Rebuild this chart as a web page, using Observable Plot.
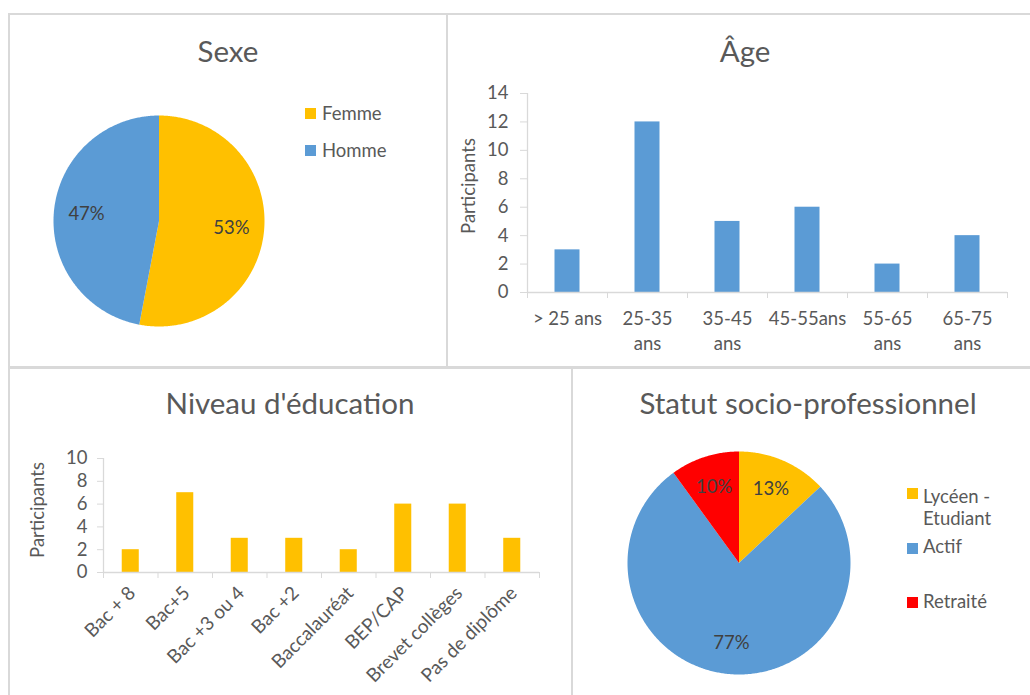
<!DOCTYPE html>
<html><head><meta charset="utf-8">
<script src="https://cdn.jsdelivr.net/npm/d3@7"></script>
<script src="https://cdn.jsdelivr.net/npm/@observablehq/plot@0.6"></script>
<style>
body{margin:0;background:#fff;font-family:Lato,sans-serif;color:#595959}
#root{position:relative;width:1030px;height:695px;overflow:hidden;background:#fff}
.panel{position:absolute;box-sizing:border-box;border:2px solid #d9d9d9}
.title{position:absolute;width:600px;text-align:center;font-size:29.5px;line-height:30px;white-space:nowrap;color:#595959}
.chart{position:absolute}
.chart svg{overflow:visible;max-width:none !important;display:block}
.ylab{position:absolute;width:200px;height:24px;line-height:24px;text-align:center;font-size:18.5px;transform:rotate(-90deg);color:#595959}
.leg{position:absolute;font-size:18.5px;line-height:22px;color:#595959}
.sw{position:absolute;width:11px;height:11px}
</style></head><body><div id="root"></div><script>
// ---- data ----
const sexeCats = ["Femme", "Homme"];
const sexeVals = [53, 47];
const sexeColors = ["#FFC000", "#5B9BD5"];

const ageCats = ["> 25 ans", "25-35 ans", "35-45 ans", "45-55ans", "55-65 ans", "65-75 ans"];
const ageTickLabels = ["> 25 ans", "25-35\nans", "35-45\nans", "45-55ans", "55-65\nans", "65-75\nans"];
const ageVals = [3, 12, 5, 6, 2, 4];
const ageYTicks = [0, 2, 4, 6, 8, 10, 12, 14];

const eduCats = ["Bac + 8", "Bac+5", "Bac +3 ou 4", "Bac +2", "Baccalauréat", "BEP/CAP", "Brevet collèges", "Pas de diplôme"];
const eduVals = [2, 7, 3, 3, 2, 6, 6, 3];
const eduYTicks = [0, 2, 4, 6, 8, 10];

const statutCats = ["Lycéen - Etudiant", "Actif", "Retraité"];
const statutVals = [13, 77, 10];
const statutColors = ["#FFC000", "#5B9BD5", "#FF0000"];

const titles = ["Sexe", "Âge", "Niveau d'éducation", "Statut socio-professionnel"];
const yLabel = "Participants";

// ---- helpers ----
const root = document.getElementById("root");
function el(cls, css, text) {
  const d = document.createElement("div");
  d.className = cls;
  Object.assign(d.style, css);
  if (text !== undefined) d.textContent = text;
  root.appendChild(d);
  return d;
}
function place(node, left, top, w, h) {
  const wrap = document.createElement("div");
  wrap.className = "chart";
  wrap.style.left = left + "px"; wrap.style.top = top + "px";
  wrap.style.width = w + "px"; wrap.style.height = h + "px";
  wrap.appendChild(node);
  root.appendChild(wrap);
}
const baseStyle = {fontFamily: "Lato, sans-serif", fontSize: "18.5px", background: "transparent", overflow: "visible", color: "#595959", maxWidth: "none"};

function pie(cats, vals, colors, size, labelR) {
  const total = d3.sum(vals);
  let acc = 0;
  const slices = cats.map((c, i) => {
    const a0 = acc / total * 2 * Math.PI; acc += vals[i];
    const a1 = acc / total * 2 * Math.PI;
    return {cat: c, val: vals[i], a0, a1, color: colors[i]};
  });
  const marks = slices.map(s => {
    const n = Math.max(2, Math.ceil((s.a1 - s.a0) / 0.01));
    const pts = [{x: 0, y: 0}];
    for (let k = 0; k <= n; k++) {
      const a = s.a0 + (s.a1 - s.a0) * k / n;
      pts.push({x: Math.sin(a), y: Math.cos(a)});
    }
    return Plot.line(pts, {x: "x", y: "y", fill: s.color, stroke: "none"});
  });
  const labels = slices.map(s => {
    const m = (s.a0 + s.a1) / 2;
    return {x: labelR * Math.sin(m), y: labelR * Math.cos(m), t: Math.round(s.val / total * 100) + "%"};
  });
  marks.push(Plot.text(labels, {x: "x", y: "y", text: "t", fill: "#404040", fontSize: 18.5}));
  return Plot.plot({
    width: size, height: size, margin: 0,
    x: {domain: [-1, 1], axis: null}, y: {domain: [-1, 1], axis: null},
    style: baseStyle, marks
  });
}

function bars(cats, tickLabels, vals, yTicks, color, o) {
  const data = cats.map((c, i) => ({i, c, v: vals[i]}));
  const n = cats.length;
  const half = 0.3125 / 2;
  return Plot.plot({
    width: o.width, height: o.height,
    marginLeft: o.ml, marginRight: o.mr, marginTop: o.mt, marginBottom: o.mb,
    x: {domain: [0, n], axis: null},
    y: {domain: [0, d3.max(yTicks)], axis: null},
    style: baseStyle,
    marks: [
      Plot.rect(data, {x1: d => d.i + 0.5 - half, x2: d => d.i + 0.5 + half, y1: () => 0, y2: "v", fill: color}),
      Plot.ruleY([0], {stroke: "#d9d9d9", strokeWidth: 1.3}),
      Plot.ruleX([0], {stroke: "#d9d9d9", strokeWidth: 1.3}),
      Plot.axisY({ticks: yTicks, tickSize: o.yTickSize, tickPadding: o.yPad, stroke: "#d9d9d9", fill: "#595959", fontSize: 18.5, label: null}),
      Plot.axisX({ticks: d3.range(n + 1), tickSize: 6, tickFormat: () => "", stroke: "#d9d9d9", label: null}),
      Plot.axisX({ticks: d3.range(n).map(i => i + 0.5), tickSize: 0, tickPadding: o.xPad, tickRotate: o.rotate,
        tickFormat: v => tickLabels[Math.floor(v)], fill: "#595959", fontSize: o.xFont, lineHeight: 1.35, label: null})
    ]
  });
}

// ---- panels ----
el("panel", {left: "8px", top: "13px", width: "440px", height: "355px"});
el("panel", {left: "446px", top: "13px", width: "620px", height: "355px"});
el("panel", {left: "8px", top: "367px", width: "565px", height: "400px"});
el("panel", {left: "571px", top: "367px", width: "500px", height: "400px"});

// titles
el("title", {left: (228 - 300) + "px", top: "36px"}, titles[0]);
el("title", {left: (745 - 300) + "px", top: "36px"}, titles[1]);
el("title", {left: (290 - 300) + "px", top: "388px"}, titles[2]);
el("title", {left: (808 - 300) + "px", top: "388px"}, titles[3]);

// Sexe pie
place(pie(sexeCats, sexeVals, sexeColors, 211, 0.69), 53, 115, 211, 211);
[[102, 108], [139, 145]].forEach(([t, s], i) => {
  el("sw", {left: "305px", top: s + "px", background: sexeColors[i]});
  el("leg", {left: "322px", top: t + "px"}, sexeCats[i]);
});

// Age bars
place(bars(ageCats, ageTickLabels, ageVals, ageYTicks, "#5B9BD5",
  {width: 596, height: 290, ml: 80, mr: 36, mt: 13, mb: 78, yTickSize: 7, yPad: 12, xPad: 15, rotate: 0, xFont: 18.5}), 447, 80, 596, 290);
el("ylab", {left: (468 - 100) + "px", top: (186 - 12) + "px"}, yLabel);

// Education bars
place(bars(eduCats, eduCats, eduVals, eduYTicks, "#FFC000",
  {width: 562, height: 255, ml: 94, mr: 32, mt: 18, mb: 123, yTickSize: 6, yPad: 10, xPad: 16, rotate: -45, xFont: 19}), 9, 440, 562, 255);
el("ylab", {left: (37 - 100) + "px", top: (510 - 12) + "px"}, yLabel);

// Statut pie
place(pie(statutCats, statutVals, statutColors, 223, 0.72), 627, 451, 223, 223);
[[485, 488], [535, 543], [590, 597]].forEach(([t, s], i) => {
  el("sw", {left: "907px", top: s + "px", background: statutColors[i]});
  el("leg", {left: "923px", top: t + "px", width: "100px"}, statutCats[i]);
});
</script></body></html>
